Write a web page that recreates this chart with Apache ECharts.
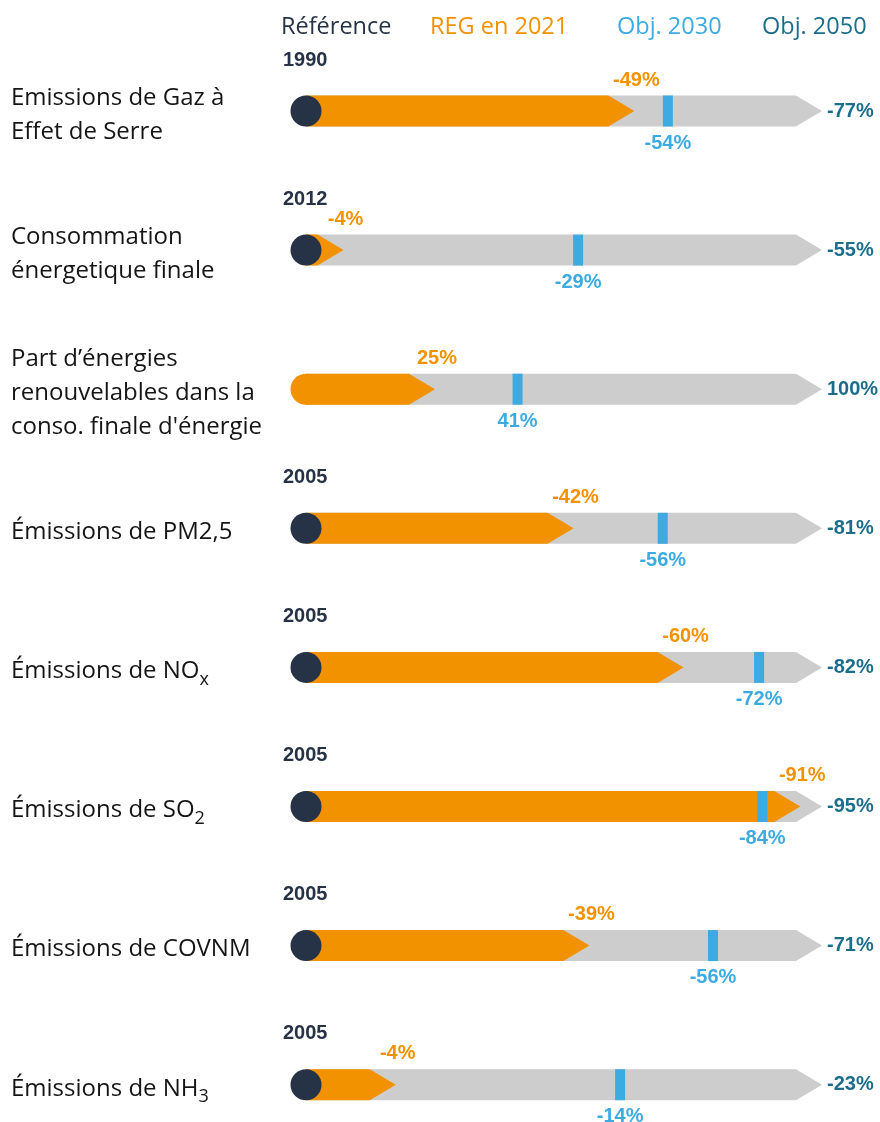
<!DOCTYPE html>
<html>
<head>
<meta charset="utf-8">
<script src="https://cdn.jsdelivr.net/npm/echarts@6/dist/echarts.min.js"></script>
<style>
html,body{margin:0;padding:0;background:#fff;}
#chart{width:880px;height:1122px;}
</style>
</head>
<body>
<div id="chart"></div>
<script>
// ---- Data ----
const categories = [
  'Emissions de Gaz à\nEffet de Serre',
  'Consommation\nénergetique finale',
  'Part d’énergies\nrenouvelables dans la\nconso. finale d\'énergie',
  'Émissions de PM2,5',
  'Émissions de NO{sub|x}',
  'Émissions de SO{sub|2}',
  'Émissions de COVNM',
  'Émissions de NH{sub|3}'
];
const refYears = ['1990', '2012', '', '2005', '2005', '2005', '2005', '2005'];
const reg2021 = [-49, -4, 25, -42, -60, -91, -39, -4];
const obj2030 = [-54, -29, 41, -56, -72, -84, -56, -14];
const obj2050 = [-77, -55, 100, -81, -82, -95, -71, -23];
const legendItems = ['Référence', 'REG en 2021', 'Obj. 2030', 'Obj. 2050'];

// ---- Styles ----
const C_NAVY = '#263246';
const C_ORANGE = '#F39200';
const C_BLUE = '#3BABE2';
const C_TEAL = '#1B6E8B';
const C_GRAY = '#CDCDCD';
const PCT_FONT = 'bold 20px "Liberation Sans", Arial, sans-serif';

const rowTop0 = 111, rowStep = 139.1, barH = 31, gridLeft = 306, gridW = 516;

const grids = [], xAxes = [], yAxes = [], series = [];
categories.forEach((cat, i) => {
  const cy = rowTop0 + rowStep * i;
  grids.push({left: gridLeft, width: gridW, top: cy - barH / 2, height: barH});
  xAxes.push({type: 'value', gridIndex: i, min: 0, max: Math.abs(obj2050[i]), show: false});
  yAxes.push({
    type: 'category', gridIndex: i, data: [cat],
    axisLine: {show: false}, axisTick: {show: false}, splitLine: {show: false},
    axisLabel: {
      align: 'left', margin: gridLeft - 11, padding: [8, 0, 0, 0],
      fontFamily: '"Open Sans", sans-serif', fontSize: 24, lineHeight: 34, color: '#151515',
      rich: {sub: {fontFamily: '"Open Sans", sans-serif', fontSize: 18, lineHeight: 20, verticalAlign: 'bottom', color: '#151515'}}
    }
  });
  series.push({
    type: 'custom', xAxisIndex: i, yAxisIndex: i, clip: false,
    encode: {x: [0, 1, 2], y: 3},
    data: [[Math.abs(reg2021[i]), Math.abs(obj2030[i]), Math.abs(obj2050[i]), 0]],
    renderItem: (params, api) => {
      const p0 = api.coord([0, 0]);
      const x0 = p0[0], c = p0[1];
      const h = api.size([0, 1])[1];
      const top = c - h / 2, bot = c + h / 2;
      const tipL = 26;
      const xReg = api.coord([api.value(0), 0])[0];
      const x30 = api.coord([api.value(1), 0])[0];
      const x50 = api.coord([api.value(2), 0])[0];
      const arrow = (xe) => [[x0, top], [xe - tipL, top], [xe, c], [xe - tipL, bot], [x0, bot]];
      const isShare = obj2050[i] > 0;
      const children = [
        {type: 'polygon', shape: {points: arrow(x50)}, style: {fill: C_GRAY}},
        {type: 'polygon', shape: {points: arrow(xReg)}, style: {fill: C_ORANGE}},
        {type: 'rect', shape: {x: x30 - 5, y: top, width: 10, height: h}, style: {fill: C_BLUE}},
        {type: 'circle', shape: {cx: x0, cy: c, r: h / 2}, style: {fill: isShare ? C_ORANGE : C_NAVY}},
        {type: 'text', style: {text: reg2021[i] + '%', x: xReg + 2, y: c - 31, align: 'center', verticalAlign: 'middle', fill: C_ORANGE, font: PCT_FONT}},
        {type: 'text', style: {text: obj2030[i] + '%', x: x30, y: c + 32, align: 'center', verticalAlign: 'middle', fill: C_BLUE, font: PCT_FONT}},
        {type: 'text', style: {text: obj2050[i] + '%', x: x50 + 5, y: c, align: 'left', verticalAlign: 'middle', fill: C_TEAL, font: PCT_FONT}}
      ];
      if (refYears[i]) {
        children.push({type: 'text', style: {text: refYears[i], x: 283, y: c - 51, align: 'left', verticalAlign: 'middle', fill: C_NAVY, font: PCT_FONT}});
      }
      return {type: 'group', children};
    }
  });
});

const legendColors = [C_NAVY, C_ORANGE, C_BLUE, C_TEAL];
const legendX = [281, 430, 617, 762];
const graphics = legendItems.map((t, k) => ({
  type: 'text', left: legendX[k], top: 15,
  style: {text: t, fill: legendColors[k], font: '500 23.5px "Open Sans", sans-serif'}
}));

const chart = echarts.init(document.getElementById('chart'), null, {renderer: 'canvas'});
chart.setOption({
  animation: false,
  backgroundColor: '#ffffff',
  grid: grids, xAxis: xAxes, yAxis: yAxes, series,
  graphic: graphics
});
</script>
</body>
</html>
